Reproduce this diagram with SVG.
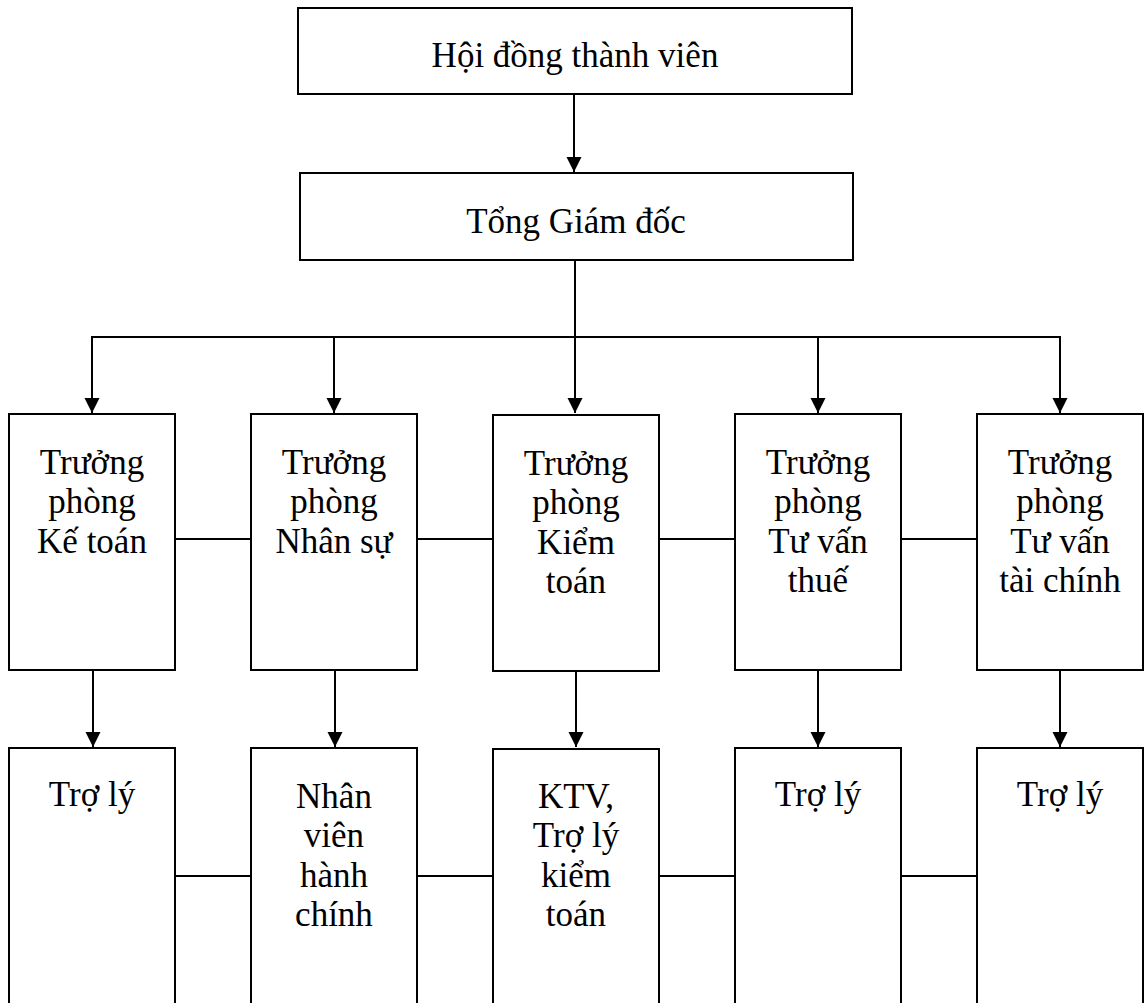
<svg xmlns="http://www.w3.org/2000/svg" width="1144" height="1003" viewBox="0 0 1144 1003">
  <style>
    .box { fill: #ffffff; stroke: #000000; stroke-width: 2; }
    .lbl { font-family: "Liberation Serif", "Times New Roman", serif; font-size: 35px; fill: #000000; text-anchor: middle; }
    .conn { stroke: #000000; stroke-width: 2; fill: none; }
  </style>
  <defs>
    <marker id="arr" markerUnits="userSpaceOnUse" markerWidth="16" markerHeight="16" refX="15" refY="7.5" orient="auto">
      <path d="M0,0 L15,7.5 L0,15 Z" fill="#000000"/>
    </marker>
  </defs>
  <rect width="1144" height="1003" fill="#ffffff"/>

  <g id="connectors">
    <line class="conn" x1="574" y1="95" x2="574" y2="172" marker-end="url(#arr)"/>
    <line class="conn" x1="575" y1="261" x2="575" y2="337"/>
    <line class="conn" x1="92" y1="337" x2="1060" y2="337"/>
    <line class="conn" x1="92" y1="336" x2="92" y2="413" marker-end="url(#arr)"/>
    <line class="conn" x1="334" y1="337" x2="334" y2="413" marker-end="url(#arr)"/>
    <line class="conn" x1="575" y1="337" x2="575" y2="413" marker-end="url(#arr)"/>
    <line class="conn" x1="818" y1="337" x2="818" y2="413" marker-end="url(#arr)"/>
    <line class="conn" x1="1060" y1="336" x2="1060" y2="413" marker-end="url(#arr)"/>
    <line class="conn" x1="93" y1="671" x2="93" y2="747" marker-end="url(#arr)"/>
    <line class="conn" x1="335" y1="671" x2="335" y2="747" marker-end="url(#arr)"/>
    <line class="conn" x1="576" y1="671" x2="576" y2="747" marker-end="url(#arr)"/>
    <line class="conn" x1="818" y1="671" x2="818" y2="747" marker-end="url(#arr)"/>
    <line class="conn" x1="1060" y1="671" x2="1060" y2="747" marker-end="url(#arr)"/>
    <line class="conn" x1="176" y1="539" x2="251" y2="539"/>
    <line class="conn" x1="417" y1="539" x2="493" y2="539"/>
    <line class="conn" x1="659" y1="539" x2="735" y2="539"/>
    <line class="conn" x1="901" y1="539" x2="977" y2="539"/>
    <line class="conn" x1="176" y1="876" x2="251" y2="876"/>
    <line class="conn" x1="417" y1="876" x2="493" y2="876"/>
    <line class="conn" x1="659" y1="876" x2="735" y2="876"/>
    <line class="conn" x1="901" y1="876" x2="977" y2="876"/>
  </g>

  <g id="hdtv">
    <rect class="box" x="298" y="8" width="554" height="86"/>
    <text class="lbl" x="575" y="67">Hội đồng thành viên</text>
  </g>
  <g id="tgd">
    <rect class="box" x="300" y="173" width="553" height="87"/>
    <text class="lbl" x="576" y="233">Tổng Giám đốc</text>
  </g>

  <g id="tp-ketoan">
    <rect class="box" x="9" y="414" width="166" height="256"/>
    <text class="lbl"><tspan x="92" y="474">Trưởng</tspan><tspan x="92" y="513.3">phòng</tspan><tspan x="92" y="552.6">Kế toán</tspan></text>
  </g>
  <g id="tp-nhansu">
    <rect class="box" x="251" y="414" width="166" height="256"/>
    <text class="lbl"><tspan x="334" y="474">Trưởng</tspan><tspan x="334" y="513.3">phòng</tspan><tspan x="334" y="552.6">Nhân sự</tspan></text>
  </g>
  <g id="tp-kiemtoan">
    <rect class="box" x="493" y="415" width="166" height="256"/>
    <text class="lbl"><tspan x="576" y="475">Trưởng</tspan><tspan x="576" y="514.3">phòng</tspan><tspan x="576" y="553.6">Kiểm</tspan><tspan x="576" y="592.9">toán</tspan></text>
  </g>
  <g id="tp-tuvanthue">
    <rect class="box" x="735" y="414" width="166" height="256"/>
    <text class="lbl"><tspan x="818" y="474">Trưởng</tspan><tspan x="818" y="513.3">phòng</tspan><tspan x="818" y="552.6">Tư vấn</tspan><tspan x="818" y="591.9">thuế</tspan></text>
  </g>
  <g id="tp-tuvantaichinh">
    <rect class="box" x="977" y="414" width="166" height="256"/>
    <text class="lbl"><tspan x="1060" y="474">Trưởng</tspan><tspan x="1060" y="513.3">phòng</tspan><tspan x="1060" y="552.6">Tư vấn</tspan><tspan x="1060" y="591.9">tài chính</tspan></text>
  </g>

  <g id="troly-1">
    <rect class="box" x="9" y="748" width="166" height="270"/>
    <text class="lbl" x="92" y="806">Trợ lý</text>
  </g>
  <g id="nvhc">
    <rect class="box" x="251" y="748" width="166" height="270"/>
    <text class="lbl"><tspan x="334" y="808">Nhân</tspan><tspan x="334" y="847.3">viên</tspan><tspan x="334" y="886.6">hành</tspan><tspan x="334" y="925.9">chính</tspan></text>
  </g>
  <g id="ktv">
    <rect class="box" x="493" y="749" width="166" height="270"/>
    <text class="lbl"><tspan x="576" y="808">KTV,</tspan><tspan x="576" y="847.3">Trợ lý</tspan><tspan x="576" y="886.6">kiểm</tspan><tspan x="576" y="925.9">toán</tspan></text>
  </g>
  <g id="troly-4">
    <rect class="box" x="735" y="748" width="166" height="270"/>
    <text class="lbl" x="818" y="806">Trợ lý</text>
  </g>
  <g id="troly-5">
    <rect class="box" x="977" y="748" width="166" height="270"/>
    <text class="lbl" x="1060" y="806">Trợ lý</text>
  </g>
</svg>
